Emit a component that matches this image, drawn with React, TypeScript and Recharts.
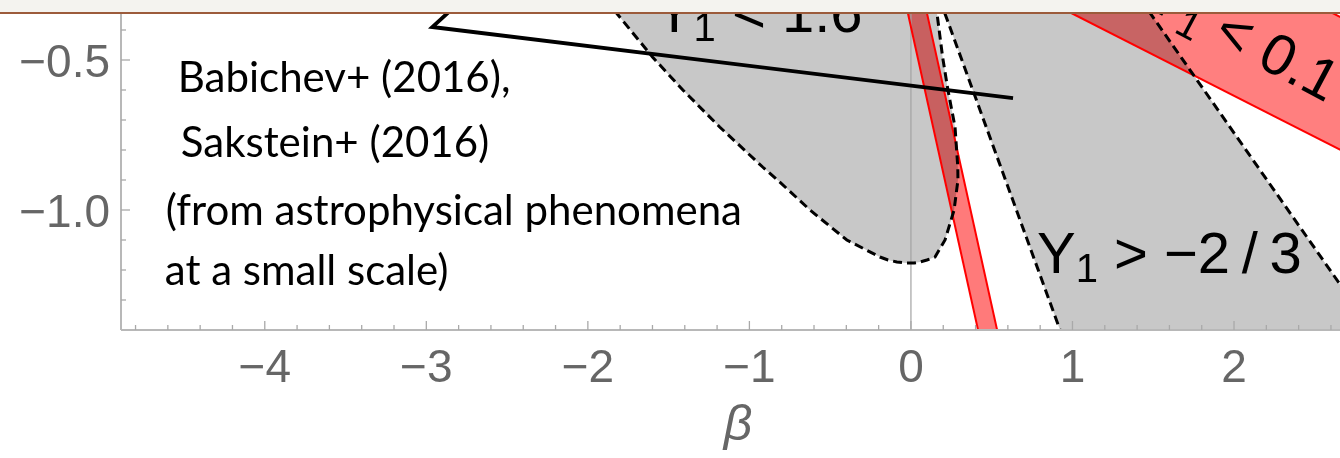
import React from 'react';
import { ComposedChart, Area, Line, XAxis, YAxis, ReferenceLine, ReferenceDot } from 'recharts';

// Horizontal axis (beta): tick positions every 0.2, labels on integers
const betaTicks = [
  -4.8, -4.6, -4.4, -4.2, -4, -3.8, -3.6, -3.4, -3.2, -3, -2.8, -2.6, -2.4, -2.2, -2,
  -1.8, -1.6, -1.4, -1.2, -1, -0.8, -0.6, -0.4, -0.2, 0, 0.2, 0.4, 0.6, 0.8, 1,
  1.2, 1.4, 1.6, 1.8, 2, 2.2, 2.4, 2.6,
];
// Vertical axis: tick positions every 0.1, labels on multiples of 0.5
const vertTicks = [-1.3, -1.2, -1.1, -1.0, -0.9, -0.8, -0.7, -0.6, -0.5, -0.4];

// "Y1 < 1.6" region: closed dashed contour, left/right beta boundary for each level
const upperY = [-0.3, -0.3433, -0.49, -0.6, -0.7233, -0.8567, -0.9, -1.0, -1.1, -1.1567, -1.1667, -1.1733, -1.1767];
const upperLeft = [-1.889, -1.823, -1.6, -1.412, -1.184, -0.918, -0.826, -0.625, -0.397, -0.192, -0.142, -0.087, -0.03];
const upperRight = [0.149, 0.161, 0.196, 0.229, 0.273, 0.29, 0.291, 0.267, 0.211, 0.149, 0.099, 0.056, 0.02];

// "Y1 > -2/3" region between two dashed lines
const lowerY = [-0.3, -1.4];
const lowerLeft = [0.18, 0.923];
const lowerRight = [1.424, 2.854];

// Narrow red band
const bandY = [-0.3, -1.45];
const bandLeft = [-0.037, 0.436];
const bandRight = [0.081, 0.554];

// Upper-right red band
const wedgeY = [-0.3, -1.0];
const wedgeLeft = [0.834, 3.39];
const wedgeRight = [2.452, 5.0];

// Red edge along the bottom frame
const floorX = [0.52, 2.9];
const floorY = [-1.4, -1.4];

// Annotation pointer
const pointerX = [-2.78, -2.963, 0.632];
const pointerY = [-0.3, -0.39, -0.627];

// Annotation text
const noteLines = ['Babichev+ (2016),', 'Sakstein+ (2016)', '(from astrophysical phenomena', 'at a small scale)'];

const rangeRows = (ys: number[], lo: number[], hi: number[]) =>
  ys.map((y, i) => ({ y, range: [lo[i], hi[i]] }));
const pathRows = (xs: number[], ys: number[]) => xs.map((x, i) => ({ x, y: ys[i] }));

const upperRows = rangeRows(upperY, upperLeft, upperRight);
const upperOutline = [
  ...upperY.map((y, i) => ({ x: upperLeft[i], y })),
  ...upperY.map((y, i) => ({ x: upperRight[i], y })).reverse(),
];
const lowerRows = rangeRows(lowerY, lowerLeft, lowerRight);
const bandRows = rangeRows(bandY, bandLeft, bandRight);
const wedgeRows = rangeRows(wedgeY, wedgeLeft, wedgeRight);

const MATH_FONT = "'Liberation Sans', Arial, sans-serif";
const NOTE_FONT = "Lato, 'Open Sans', sans-serif";
const TICK_COLOR = '#a9a9a9';
const LABEL_COLOR = '#666666';

const fmtNum = (v: number, digits: number) => {
  const s = Math.abs(v).toFixed(digits);
  return v < -1e-9 ? '\u2212' + s : s;
};

const BetaTick = (props: any) => {
  const { x, y, payload } = props;
  const v = payload.value as number;
  const major = Math.abs(v - Math.round(v)) < 1e-6;
  return (
    <g>
      <line x1={x} x2={x} y1={y} y2={y - (major ? 9 : 5)} stroke={TICK_COLOR} strokeWidth={1.3} />
      {major && (
        <text x={x} y={y + 52} textAnchor="middle" fontFamily={MATH_FONT} fontSize={46} fill={LABEL_COLOR}>
          {fmtNum(v, 0)}
        </text>
      )}
    </g>
  );
};

const VertTick = (props: any) => {
  const { x, y, payload } = props;
  const v = payload.value as number;
  const major = Math.abs(v * 2 - Math.round(v * 2)) < 1e-6;
  return (
    <g>
      <line x1={x} x2={x + (major ? 9 : 5)} y1={y} y2={y} stroke={TICK_COLOR} strokeWidth={1.3} />
      {major && (
        <text x={x - 11} y={y + 16.5} textAnchor="end" fontFamily={MATH_FONT} fontSize={46} fill={LABEL_COLOR}>
          {fmtNum(v, 1)}
        </text>
      )}
    </g>
  );
};

const regionLabel = (sub: string, rest: string, anchor: 'start' | 'end', rotate = 0) => (p: any) => (
  <text
    x={p.cx}
    y={p.cy}
    textAnchor={anchor}
    fontFamily={MATH_FONT}
    fontSize={58}
    fill="#000"
    transform={rotate ? `rotate(${rotate} ${p.cx} ${p.cy})` : undefined}
  >
    Y<tspan fontSize={40} dy={9}>{sub}</tspan>
    <tspan dy={-9}>{rest}</tspan>
  </text>
);

const noteOffsets = [
  [8, 0],
  [11, 65],
  [-4, 133],
  [-5, 193],
];

const noteShape = (p: any) => (
  <text fontFamily={NOTE_FONT} fontSize={42} fill="#000">
    {noteLines.map((t, i) => (
      <tspan key={i} x={p.cx + noteOffsets[i][0]} y={p.cy + noteOffsets[i][1]}>
        {t}
      </tspan>
    ))}
  </text>
);

const betaShape = (p: any) => (
  <text x={p.cx} y={p.cy + 110} textAnchor="middle" fontFamily={MATH_FONT} fontStyle="italic" fontSize={50} fill={LABEL_COLOR}>
    β
  </text>
);

const DASH = { stroke: '#000', strokeWidth: 3, strokeDasharray: '9 5' };

export default function App() {
  return (
    <div style={{ position: 'absolute', left: 0, top: 0, width: 1340, height: 458, background: '#fff', overflow: 'hidden' }}>
      <style>{'.blend-multiply { mix-blend-mode: multiply; }'}</style>
      <ComposedChart width={1340} height={458} layout="vertical" margin={{ top: 0, right: 0, bottom: 0, left: 0 }}>
        <Area data={upperRows} dataKey="range" type="linear" fill="#c8c8c8" fillOpacity={1} stroke="none" isAnimationActive={false} />
        <Area data={lowerRows} dataKey="range" type="linear" fill="#c8c8c8" fillOpacity={1} stroke="none" isAnimationActive={false} />
        <ReferenceLine x={0} stroke="#a3a3a3" strokeWidth={1.2} />
        <Area className="blend-multiply" data={bandRows} dataKey="range" type="linear" fill="#ff7a7a" fillOpacity={1} stroke="none" isAnimationActive={false} />
        <Area className="blend-multiply" data={wedgeRows} dataKey="range" type="linear" fill="#ff7f7f" fillOpacity={1} stroke="none" isAnimationActive={false} />
        <Line data={pathRows(bandLeft, bandY)} dataKey="x" stroke="#ff0000" strokeWidth={2} dot={false} activeDot={false} isAnimationActive={false} />
        <Line data={pathRows(bandRight, bandY)} dataKey="x" stroke="#ff0000" strokeWidth={2} dot={false} activeDot={false} isAnimationActive={false} />
        <Line data={pathRows(wedgeLeft, wedgeY)} dataKey="x" stroke="#ff0000" strokeWidth={2} dot={false} activeDot={false} isAnimationActive={false} />
        <Line data={pathRows(wedgeRight, wedgeY)} dataKey="x" stroke="#ff0000" strokeWidth={2} dot={false} activeDot={false} isAnimationActive={false} />
        <Line data={pathRows(floorX, floorY)} dataKey="x" stroke="#ff0000" strokeOpacity={0.45} strokeWidth={2} dot={false} activeDot={false} isAnimationActive={false} />
        <Line data={upperOutline} dataKey="x" {...DASH} dot={false} activeDot={false} isAnimationActive={false} />
        <Line data={pathRows(lowerLeft, lowerY)} dataKey="x" {...DASH} dot={false} activeDot={false} isAnimationActive={false} />
        <Line data={pathRows(lowerRight, lowerY)} dataKey="x" {...DASH} dot={false} activeDot={false} isAnimationActive={false} />
        <Line data={pathRows(pointerX, pointerY)} dataKey="x" stroke="#000" strokeWidth={3.8} dot={false} activeDot={false} isAnimationActive={false} />
        <ReferenceDot x={-1.585} y={-0.4067} r={1} shape={regionLabel('1', '\u00A0<\u00A01.6', 'start')} />
        <ReferenceDot x={0.78} y={-1.21} r={1} shape={regionLabel('1', '\u00A0>\u00A0\u22122\u2009/\u20093', 'start')} />
        <ReferenceDot x={2.57} y={-0.643} r={1} shape={regionLabel('1', '\u00A0<\u00A00.1', 'end', 28)} />
        <ReferenceDot x={-4.588} y={-0.6067} r={1} shape={noteShape} />
        <ReferenceDot x={-1.071} y={-1.4} r={1} ifOverflow="visible" shape={betaShape} />
        <XAxis
          type="number"
          domain={[-4.89, 2.656]}
          allowDataOverflow
          ticks={betaTicks}
          interval={0}
          tickSize={0}
          tickMargin={0}
          tickLine={false}
          tick={<BetaTick />}
          axisLine={{ stroke: '#b8b8b8', strokeWidth: 2 }}
          height={128}
        />
        <YAxis
          type="number"
          dataKey="y"
          domain={[-1.4, -0.3]}
          reversed
          allowDataOverflow
          ticks={vertTicks}
          interval={0}
          tickSize={0}
          tickMargin={0}
          tickLine={false}
          tick={<VertTick />}
          axisLine={{ stroke: '#b8b8b8', strokeWidth: 2 }}
          width={121}
        />
      </ComposedChart>
      <div
        style={{
          position: 'absolute',
          left: 0,
          top: 0,
          width: 1340,
          height: 12,
          background: '#f4f3ef',
          borderBottom: '2px solid #9c5b3b',
        }}
      />
    </div>
  );
}
